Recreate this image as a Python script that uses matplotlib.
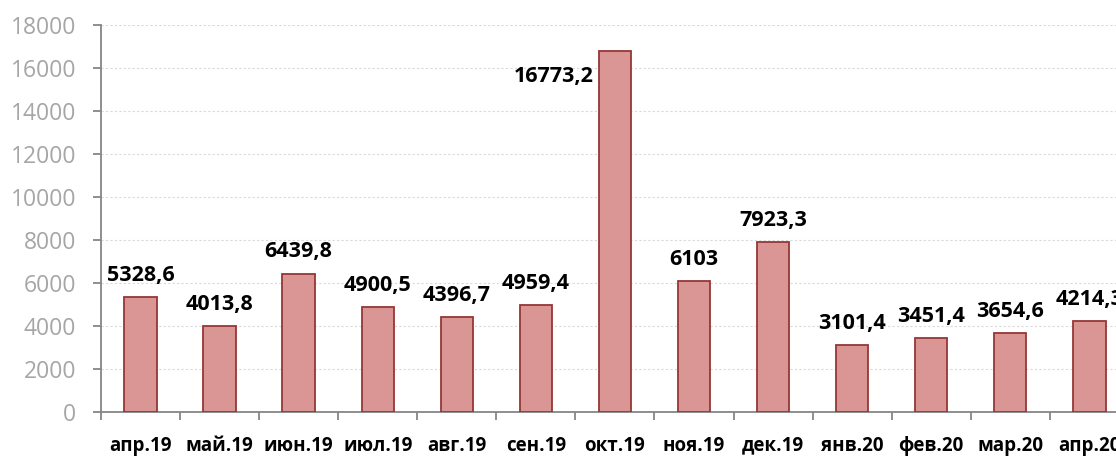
import numpy as np
import matplotlib.pyplot as plt

months = ["апр.19", "май.19", "июн.19", "июл.19", "авг.19", "сен.19", "окт.19",
          "ноя.19", "дек.19", "янв.20", "фев.20", "мар.20", "апр.20"]
values = [5328.6, 4013.8, 6439.8, 4900.5, 4396.7, 4959.4, 16773.2,
          6103, 7923.3, 3101.4, 3451.4, 3654.6, 4214.3]
labels = ["5328,6", "4013,8", "6439,8", "4900,5", "4396,7", "4959,4", "16773,2",
          "6103", "7923,3", "3101,4", "3451,4", "3654,6", "4214,3"]
yticks = [0, 2000, 4000, 6000, 8000, 10000, 12000, 14000, 16000, 18000]

plt.rcParams['font.family'] = ['Open Sans', 'DejaVu Sans']

fig = plt.figure(figsize=(11.16, 4.57), dpi=100)
ax = fig.add_axes([0.0905, 0.0985, 0.921, 0.8468])

x = np.arange(len(months))
ax.bar(x, values, width=0.41, color="#d99694", edgecolor="#953735", linewidth=1.3, zorder=3)

ax.set_xlim(-0.5, len(months) - 0.5)
ax.set_ylim(0, 18000)
ax.set_yticks(yticks)
ax.set_yticklabels([str(t) for t in yticks], color="#a6a6a6", fontsize=16.5)
ax.yaxis.grid(True, linestyle=(0, (2, 2)), color="#d9d9d9", linewidth=0.8, zorder=0)

ax.set_xticks(x)
ax.set_xticklabels(months, fontsize=13.5, fontweight="bold")
ax.set_xticks(np.arange(len(months) + 1) - 0.5, minor=True)
ax.tick_params(axis="x", which="major", length=0, pad=17)
ax.tick_params(axis="x", which="minor", length=6, color="#868686", width=1.3)
ax.tick_params(axis="y", length=6, color="#868686", width=1.3, pad=12)

for s in ["top", "right"]:
    ax.spines[s].set_visible(False)
for s in ["left", "bottom"]:
    ax.spines[s].set_color("#868686")
    ax.spines[s].set_linewidth(1.3)

top = int(np.argmax(values))
for i, (v, lab) in enumerate(zip(values, labels)):
    if i == top:
        ax.annotate(lab, (i, v), xytext=(-44, -18), textcoords="offset points",
                    ha="center", va="center", fontsize=15.5, fontweight="bold")
    else:
        ax.annotate(lab, (i, v), xytext=(0, 8), textcoords="offset points",
                    ha="center", va="bottom", fontsize=15.5, fontweight="bold")

fig.savefig("out.png", dpi=100)
